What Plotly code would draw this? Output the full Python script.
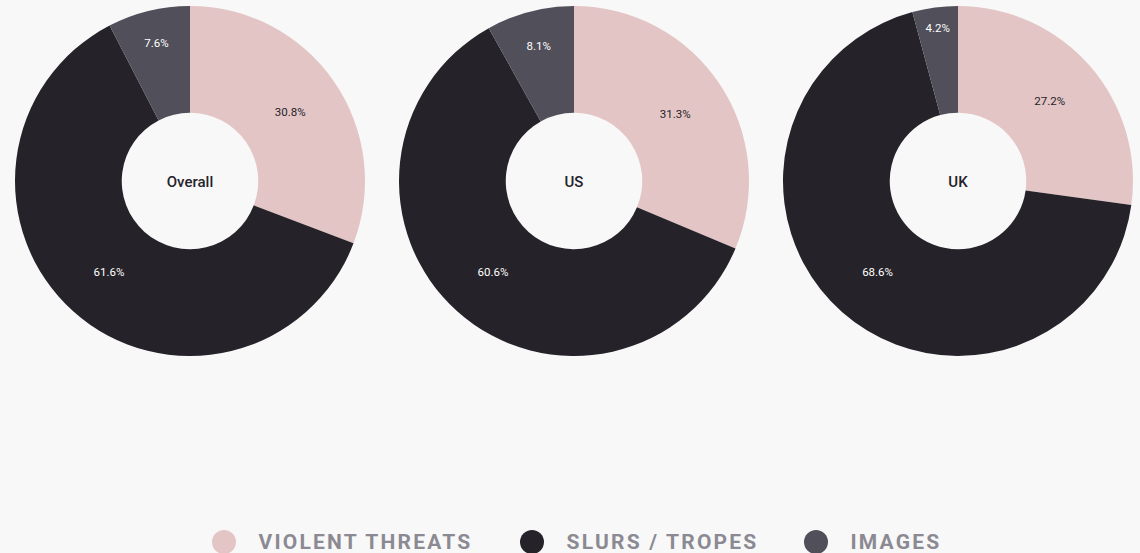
import plotly.graph_objects as go

categories = ["VIOLENT THREATS", "SLURS / TROPES", "IMAGES"]
regions = ["Overall", "US", "UK"]
overall = [30.8, 61.6, 7.6]
us = [31.3, 60.6, 8.1]
uk = [27.2, 68.6, 4.2]
series = [overall, us, uk]

colors = ["#e3c5c5", "#252329", "#514f5a"]
text_colors = ["#252329", "#ffffff", "#ffffff"]
BG = "#f8f8f8"
W, H = 1140, 553

fig = go.Figure()
centers_x = [190, 574, 958]
R = 175
cy = 181
for name, vals, cx in zip(regions, series, centers_x):
    fig.add_trace(go.Pie(
        labels=categories,
        values=vals,
        hole=0.39,
        sort=False,
        direction="clockwise",
        rotation=0,
        marker=dict(colors=colors, line=dict(width=0)),
        texttemplate="%{value:.1f}%",
        textposition="inside",
        insidetextorientation="horizontal",
        textfont=dict(family="Roboto", size=11.5, color=text_colors),
        title=dict(text=name, position="middle center",
                   font=dict(family="Roboto", size=15, color="#252329", weight=500)),
        domain=dict(x=[(cx - R) / W, (cx + R) / W],
                    y=[1 - (cy + R) / H, 1 - (cy - R) / H]),
        showlegend=False,
        hoverinfo="label+percent",
    ))

# custom legend
SPACING = 2.2
leg_y = 542
leg_circle_x = [224, 532, 816]
shapes = []
annotations = []
for cat, col, lx in zip(categories, colors, leg_circle_x):
    shapes.append(dict(type="circle", xref="paper", yref="paper",
                       x0=(lx - 12) / W, x1=(lx + 12) / W,
                       y0=1 - (leg_y + 12) / H, y1=1 - (leg_y - 12) / H,
                       fillcolor=col, line=dict(width=0)))
    shift = (len(cat) - 1) * SPACING / 2
    annotations.append(dict(text="<b>" + cat + "</b>", xref="paper", yref="paper",
                            x=(lx + 34 + shift) / W, y=1 - leg_y / H,
                            xanchor="left", yanchor="middle", showarrow=False,
                            font=dict(family="Roboto", size=21, color="#8b8a92")))

fig.update_layout(
    width=W, height=H,
    margin=dict(l=0, r=0, t=0, b=0),
    paper_bgcolor=BG, plot_bgcolor=BG,
    shapes=shapes, annotations=annotations,
)

post = """
document.body.style.margin='0';
document.body.style.background='#f8f8f8';
document.querySelectorAll('.annotation-text').forEach(function(e){e.style.letterSpacing='%spx';});
""" % SPACING
fig.write_html("out.html", post_script=post, config={"displayModeBar": False})
